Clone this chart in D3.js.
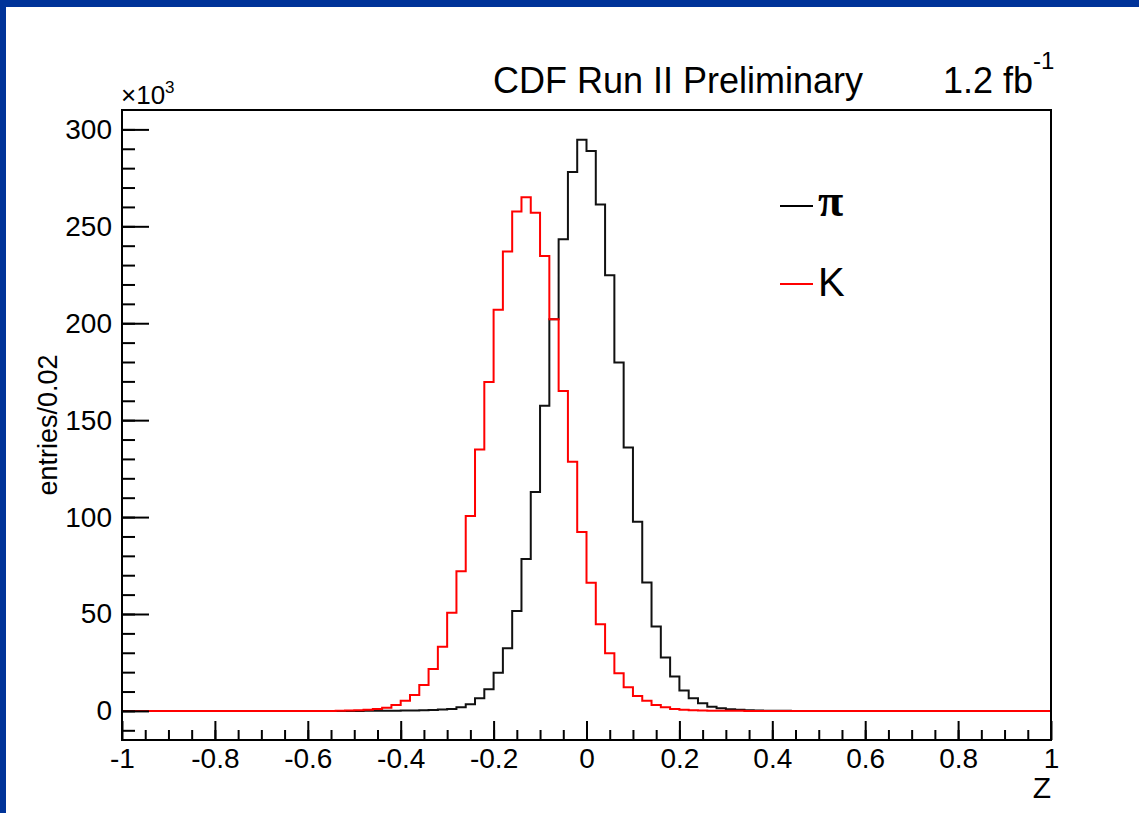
<!DOCTYPE html>
<html>
<head>
<meta charset="utf-8">
<script src="https://cdn.jsdelivr.net/npm/d3@7"></script>
<style>
  body { margin: 0; background: #ffffff; }
  svg text { font-family: "Liberation Sans", Arial, sans-serif; fill: #000; }
</style>
</head>
<body>
<svg id="chart" width="1139" height="813"></svg>
<script>
// lower edge of each 0.02 bin that has entries; all other bins are empty
const binLow = [-0.54, -0.52, -0.50, -0.48, -0.46, -0.44, -0.42, -0.40, -0.38, -0.36,
  -0.34, -0.32, -0.30, -0.28, -0.26, -0.24, -0.22, -0.20, -0.18, -0.16,
  -0.14, -0.12, -0.10, -0.08, -0.06, -0.04, -0.02, 0.00, 0.02, 0.04,
  0.06, 0.08, 0.10, 0.12, 0.14, 0.16, 0.18, 0.20, 0.22, 0.24,
  0.26, 0.28, 0.30, 0.32, 0.34, 0.36, 0.38, 0.40, 0.42];

// entries / 0.02, in units of 10^3
const pionValues = [0, 0, 0.02, 0.03, 0.05, 0.08, 0.12, 0.18, 0.25, 0.35,
  0.5, 0.7, 1.0, 1.9, 3.5, 6.5, 11.2, 19.7, 32.3, 51.5,
  78.4, 113, 157.4, 202, 243.3, 278, 294.7, 288.8, 261.3, 224.7,
  179.7, 135.9, 97.6, 66.3, 43.5, 27.5, 17.7, 10.5, 6.5, 4.0,
  2.2, 1.4, 0.9, 0.6, 0.4, 0.25, 0.15, 0.1, 0.05];

const kaonValues = [0.1, 0.2, 0.35, 0.6, 1.0, 1.7, 3.1, 5.2, 8.2, 13.4,
  21.6, 33.1, 50.7, 72, 100.5, 134.9, 169.7, 207, 237, 257.6,
  265, 257, 234.7, 202, 165, 128.5, 92.3, 66.1, 44.7, 29.7,
  19.4, 12.2, 7.7, 5.2, 3.1, 1.9, 1.0, 0.6, 0.4, 0.25,
  0.15, 0.1, 0.05, 0.03, 0, 0, 0, 0, 0];

const binWidth = 0.02;
const xDomain = [-1, 1];
const yDomain = [-15, 310];
const xMajorTicks = [-1, -0.8, -0.6, -0.4, -0.2, 0, 0.2, 0.4, 0.6, 0.8, 1];
const yMajorTicks = [0, 50, 100, 150, 200, 250, 300];

const legendItems = [
  { label: "\u03c0", color: "#000000", font: "Liberation Serif, DejaVu Serif, serif" },
  { label: "K", color: "#ff0000", font: "Liberation Sans, Arial, sans-serif" }
];

const svg = d3.select("#chart");

// blue slide border
svg.append("rect").attr("x", 0).attr("y", 0).attr("width", 1139).attr("height", 7).attr("fill", "#003399");
svg.append("rect").attr("x", 0).attr("y", 0).attr("width", 6).attr("height", 813).attr("fill", "#003399");

const frame = { left: 122, right: 1051, top: 110, bottom: 740 };

const x = d3.scaleLinear().domain(xDomain).range([frame.left, frame.right]);
const y = d3.scaleLinear().domain(yDomain).range([frame.bottom, frame.top]);

function histPoints(values) {
  const pts = [[xDomain[0], 0]];
  binLow.forEach((lo, i) => {
    pts.push([lo, i > 0 ? values[i - 1] : 0]);
    pts.push([lo, values[i]]);
    pts.push([lo + binWidth, values[i]]);
  });
  pts.push([binLow[binLow.length - 1] + binWidth, 0]);
  pts.push([xDomain[1], 0]);
  return pts;
}

const line = d3.line().x(d => x(d[0])).y(d => y(d[1]));

const plot = svg.append("g");
plot.append("path")
  .attr("d", line(histPoints(pionValues)))
  .attr("fill", "none")
  .attr("stroke", "#111111")
  .attr("stroke-width", 2);
plot.append("path")
  .attr("d", line(histPoints(kaonValues)))
  .attr("fill", "none")
  .attr("stroke", "#ff0000")
  .attr("stroke-width", 2);

// frame
svg.append("rect")
  .attr("x", frame.left).attr("y", frame.top)
  .attr("width", frame.right - frame.left).attr("height", frame.bottom - frame.top)
  .attr("fill", "none").attr("stroke", "#000").attr("stroke-width", 2);

const fmt = d => String(+d.toFixed(1));

const xAxis = svg.append("g")
  .attr("transform", `translate(0,${frame.bottom})`)
  .call(d3.axisBottom(x).tickValues(xMajorTicks).tickSize(-19).tickPadding(8).tickFormat(fmt));
const xMinor = svg.append("g")
  .attr("transform", `translate(0,${frame.bottom})`)
  .call(d3.axisBottom(x).tickValues(d3.range(-0.95, 1, 0.05)).tickSize(-10).tickFormat(""));

const yAxis = svg.append("g")
  .attr("transform", `translate(${frame.left},0)`)
  .call(d3.axisLeft(y).tickValues(yMajorTicks).tickSize(-27).tickPadding(10).tickFormat(fmt));
const yMinor = svg.append("g")
  .attr("transform", `translate(${frame.left},0)`)
  .call(d3.axisLeft(y).tickValues(d3.range(-10, 310, 10)).tickSize(-13).tickFormat(""));

[xAxis, xMinor, yAxis, yMinor].forEach(g => {
  g.select(".domain").remove();
  g.selectAll(".tick line").attr("stroke", "#000").attr("stroke-width", 2);
  g.selectAll(".tick text").attr("font-size", 28).attr("font-family", "Liberation Sans, Arial, sans-serif").attr("fill", "#000");
});

// axis titles
svg.append("text")
  .attr("transform", "translate(57,425) rotate(-90)")
  .attr("text-anchor", "middle")
  .attr("font-size", 27)
  .text("entries/0.02");

svg.append("text")
  .attr("x", frame.right).attr("y", 798)
  .attr("text-anchor", "end")
  .attr("font-size", 30)
  .text("Z");

svg.append("text")
  .attr("x", 121).attr("y", 104)
  .attr("font-size", 26)
  .text("\u00d710")
  .append("tspan").attr("dy", -11).attr("font-size", 17).text("3");

// header
svg.append("text")
  .attr("x", 493).attr("y", 93)
  .attr("font-size", 36)
  .text("CDF Run II Preliminary");

const lumi = svg.append("text")
  .attr("x", 943).attr("y", 93)
  .attr("font-size", 36)
  .text("1.2 fb");
lumi.append("tspan").attr("dy", -24).attr("font-size", 24).text("-1");

// legend
const legend = svg.append("g");
legendItems.forEach((item, i) => {
  const ly = 206 + i * 78;
  legend.append("line")
    .attr("x1", 780).attr("x2", 813)
    .attr("y1", ly).attr("y2", ly)
    .attr("stroke", item.color).attr("stroke-width", 2);
  legend.append("text")
    .attr("x", 818).attr("y", ly + (i === 0 ? 10 : 12))
    .attr("font-size", i === 0 ? 46 : 40)
    .attr("font-weight", i === 0 ? "bold" : "normal")
    .style("font-family", item.font)
    .text(item.label);
});
</script>
</body>
</html>
